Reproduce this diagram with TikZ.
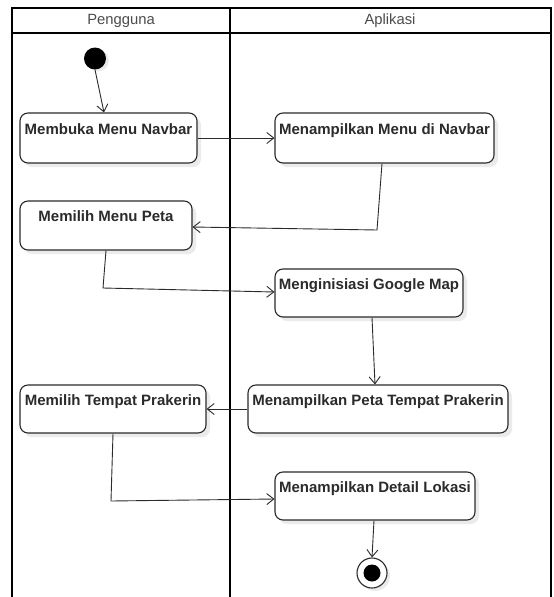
\documentclass[tikz,border=0pt]{standalone}
\usepackage{fontspec}
\setmainfont{Liberation Sans}
\usetikzlibrary{arrows.meta,shadows}
\definecolor{ln}{HTML}{2B2B2B}
\begin{document}
\begin{tikzpicture}[x=1pt,y=-1pt,
  lane/.style={line width=1.8pt, draw=black},
  act/.style={rectangle, draw=ln, line width=1.1pt, rounded corners=8pt, fill=white, inner sep=0pt,
     drop shadow={shadow xshift=4pt, shadow yshift=-4pt, fill=black, opacity=0.08}},
  acttxt/.style={font=\bfseries\fontsize{15}{18}\selectfont, text=ln, inner sep=0pt},
  flow/.style={draw=ln, line width=0.9pt, -{Straight Barb[length=7pt,width=11pt,line width=0.9pt]}},
  hdr/.style={font=\fontsize{14.8}{17}\selectfont, text=black!70}]
\useasboundingbox (0,0) rectangle (554,597);
\fill[white] (0,0) rectangle (554,597);
% swimlanes
\draw[lane] (12,605) -- (12,8) -- (551,8) -- (551,605);
\draw[lane] (12,33) -- (551,33);
\draw[lane] (230,8) -- (230,605);
\node[hdr] (h1) at (121,20.5) {Pengguna};
\node[hdr] (h2) at (390,20.5) {Aplikasi};
% start / end
\node (start) [circle, fill=black, minimum size=22pt, inner sep=0pt,
  drop shadow={shadow xshift=3pt, shadow yshift=-2pt, fill=black, opacity=0.08}] at (95,58.5) {};
\node (end) [circle, draw=ln, fill=white, line width=1.1pt, minimum size=30pt, inner sep=0pt,
  drop shadow={shadow xshift=3pt, shadow yshift=-3pt, fill=black, opacity=0.08}] at (372,573) {};
\node (endin) [circle, fill=black, minimum size=17pt, inner sep=0pt] at (end) {};
% activities
\node (b1) [act, minimum width=177pt, minimum height=50pt, label={[acttxt, anchor=base, yshift=-22pt]north:Membuka Menu Navbar}] at (108.5,138) {};
\node (b2) [act, minimum width=219pt, minimum height=50pt, label={[acttxt, anchor=base, yshift=-22pt]north:Menampilkan Menu di Navbar}] at (384.5,138) {};
\node (b3) [act, minimum width=172pt, minimum height=49pt, label={[acttxt, anchor=base, yshift=-21pt]north:Memilih Menu Peta}] at (106,225.5) {};
\node (b4) [act, minimum width=188pt, minimum height=48pt, label={[acttxt, anchor=base, yshift=-21pt]north:Menginisiasi Google Map}] at (369,293) {};
\node (b5) [act, minimum width=260pt, minimum height=48pt, label={[acttxt, anchor=base, yshift=-21pt]north:Menampilkan Peta Tempat Prakerin}] at (378,409) {};
\node (b6) [act, minimum width=186pt, minimum height=48pt, label={[acttxt, anchor=base, yshift=-21pt]north:Memilih Tempat Prakerin}] at (113,409) {};
\node (b7) [act, minimum width=200pt, minimum height=48pt, label={[acttxt, anchor=base, yshift=-21pt]north:Menampilkan Detail Lokasi}] at (375,496) {};
% waypoints
\coordinate (w2) at (377,230);
\coordinate (w3) at (103,288);
\coordinate (w6) at (111,501);
% flows
\draw[flow] (start.south) -- ([xshift=-4.5pt]b1.north);
\draw[flow] (b1.east) -- (b2.west);
\draw[flow] ([xshift=-2.5pt]b2.south) -- (w2) -- ([yshift=-1.5pt]b3.east);
\draw[flow] (b3.south) -- (w3) -- ([yshift=1pt]b4.west);
\draw[flow] ([xshift=3pt]b4.south) -- ([xshift=-3pt]b5.north);
\draw[flow] (b5.west) -- (b6.east);
\draw[flow] (b6.south) -- (w6) -- ([yshift=-3pt]b7.west);
\draw[flow] ([xshift=-1pt]b7.south) -- (end.north);
\end{tikzpicture}
\end{document}
